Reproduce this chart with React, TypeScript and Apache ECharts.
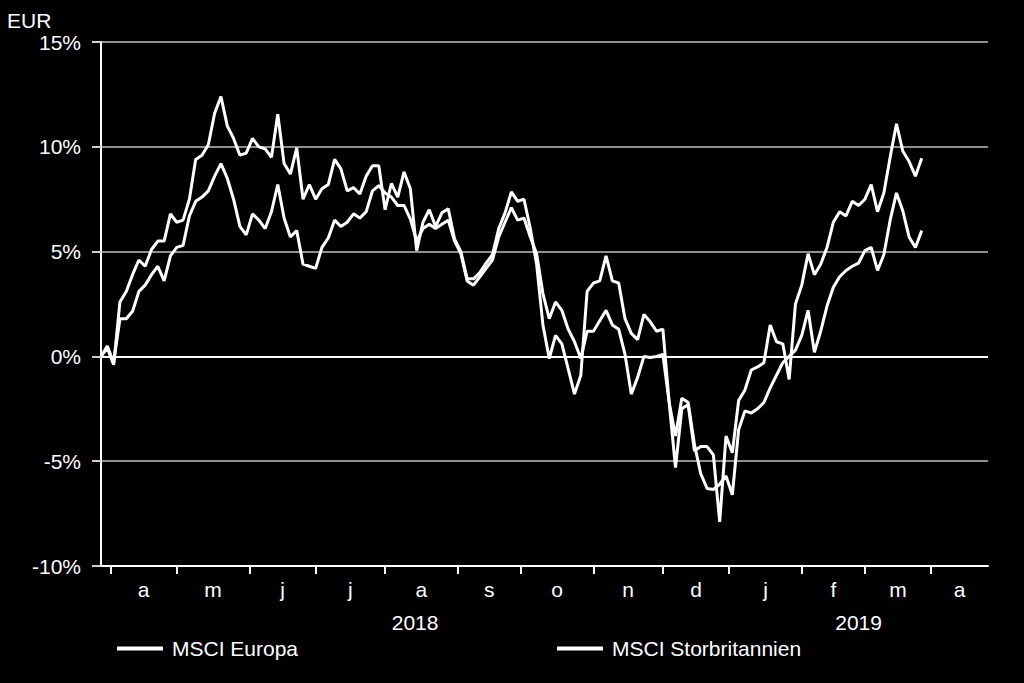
import { useEffect, useRef } from "react";
import * as echarts from "echarts";

// Trading-day index (weekdays counted from 28 Mar 2018), one sample every second day
const msciStorbritannien = [
  0.0, 0.4, -0.4, 2.6, 3.1, 3.9, 4.6, 4.3, 5.1, 5.5,
  5.5, 6.8, 6.4, 6.5, 7.5, 9.4, 9.6, 10.1, 11.6, 12.4,
  11.0, 10.4, 9.6, 9.7, 10.4, 10.0, 9.9, 9.5, 11.55, 9.2,
  8.7, 9.95, 7.5, 8.2, 7.5, 8.0, 8.2, 9.4, 8.95, 7.9,
  8.05, 7.75, 8.6, 9.1, 9.1, 7.0, 8.25, 7.6, 8.8, 8.0,
  5.05, 6.4, 7.0, 6.2, 6.85, 7.05, 5.6, 5.0, 3.7, 3.7,
  4.0, 4.45, 4.85, 6.1, 6.85, 7.85, 7.4, 7.5, 6.1, 4.4,
  1.5, -0.1, 1.0, 0.6, -0.6, -1.8, -0.9, 3.1, 3.5, 3.6,
  4.8, 3.6, 3.5, 1.8, 1.1, 0.8, 2.0, 1.65, 1.2, 1.3,
  -2.2, -5.3, -2.5, -2.3, -4.5, -4.3, -4.3, -4.7, -7.9, -3.8,
  -4.6, -2.1, -1.6, -0.65, -0.5, -0.3, 1.5, 0.7, 0.6, -1.1,
  2.5, 3.4, 4.9, 3.9, 4.4, 5.2, 6.4, 6.9, 6.7, 7.4,
  7.2, 7.5, 8.2, 6.9, 7.8, 9.5, 11.1, 9.8, 9.3, 8.6,
  9.45,
];

const msciEuropa = [
  0.0, 0.5, -0.3, 1.8, 1.8, 2.15, 3.1, 3.4, 3.9, 4.3,
  3.6, 4.8, 5.2, 5.3, 6.7, 7.4, 7.6, 7.9, 8.6, 9.2,
  8.5, 7.5, 6.2, 5.8, 6.8, 6.5, 6.1, 6.9, 8.2, 6.6,
  5.7, 6.0, 4.4, 4.3, 4.2, 5.2, 5.65, 6.5, 6.2, 6.4,
  6.8, 6.6, 6.9, 7.9, 8.15, 7.8, 7.6, 7.2, 7.2, 6.55,
  5.5, 6.1, 6.3, 6.1, 6.3, 6.5, 5.5, 4.9, 3.6, 3.4,
  3.8, 4.2, 4.6, 5.7, 6.4, 7.1, 6.5, 6.6, 5.7, 4.9,
  3.0, 1.8, 2.6, 2.2, 1.3, 0.7, -0.1, 1.2, 1.2, 1.7,
  2.2, 1.5, 1.3, 0.1, -1.8, -1.0, 0.0, -0.05, 0.0, 0.1,
  -2.2, -3.8, -2.0, -2.2, -4.2, -5.6, -6.3, -6.35, -6.1, -5.7,
  -6.6, -3.5, -2.6, -2.7, -2.5, -2.2, -1.5, -0.9, -0.3, 0.0,
  0.3, 1.0, 2.2, 0.2, 1.2, 2.4, 3.3, 3.8, 4.1, 4.3,
  4.45, 5.05, 5.2, 4.1, 4.85, 6.5, 7.8, 6.95, 5.7, 5.2,
  6.0,
];

const sampleStep = 2;
const dayIndex = msciEuropa.map((_, k) => k * sampleStep);

// Month boundaries in trading-day index and month letters
const monthStarts = [3, 24, 47, 68, 90, 113, 133, 156, 178, 199, 222, 242, 263];
const axisEnd = 281;
const monthLetters = ["a", "m", "j", "j", "a", "s", "o", "n", "d", "j", "f", "m", "a"];
const yearLabels = ["2018", "2019"];
const yearPositions = [99.5, 240];

const yTicks = { min: -10, max: 15, step: 5 };

const FONT = "'Liberation Sans', Arial, Helvetica, sans-serif";
const FS = 21;

export default function App() {
  const ref = useRef<HTMLDivElement>(null);

  useEffect(() => {
    if (!ref.current) return;
    const chart = echarts.init(ref.current, null, { renderer: "svg" });

    const bounds = [...monthStarts, axisEnd];
    const labelPositions = monthLetters.map((_, i) => (bounds[i] + bounds[i + 1]) / 2);

    const lineSeries = (name: string, values: number[], extra: any = {}) => ({
      name,
      type: "line",
      data: dayIndex.map((d, i) => [d, values[i]]),
      showSymbol: false,
      symbol: "none",
      lineStyle: { color: "#ffffff", width: 3 },
      itemStyle: { color: "#ffffff" },
      z: 3,
      ...extra,
    });

    const legendBase = {
      icon: "rect",
      itemWidth: 46,
      itemHeight: 4,
      padding: 0,
      top: 638,
      textStyle: { color: "#ffffff", fontSize: FS, fontFamily: FONT, padding: [0, 0, 0, 4] },
    };

    chart.setOption({
      animation: false,
      backgroundColor: "#000000",
      textStyle: { fontFamily: FONT },
      title: {
        text: "EUR",
        left: 2,
        top: 5,
        textStyle: { color: "#ffffff", fontSize: FS, fontWeight: "normal", fontFamily: FONT },
      },
      legend: [
        { ...legendBase, data: ["MSCI Europa"], left: 117 },
        { ...legendBase, data: ["MSCI Storbritannien"], left: 557 },
      ],
      grid: { left: 101, right: 36, top: 42, bottom: 117, containLabel: false },
      xAxis: [
        {
          type: "value",
          min: 0,
          max: axisEnd,
          position: "bottom",
          axisLine: { show: true, onZero: false, lineStyle: { color: "#ffffff", width: 2 } },
          axisTick: {
            show: true,
            length: 8,
            customValues: monthStarts,
            lineStyle: { color: "#ffffff", width: 2 },
          },
          axisLabel: {
            customValues: labelPositions,
            formatter: (v: number) => {
              const i = labelPositions.indexOf(v);
              return i >= 0 ? monthLetters[i] : "";
            },
            color: "#ffffff",
            fontSize: FS,
            fontFamily: FONT,
            margin: 13,
          },
          splitLine: { show: false },
        },
        {
          type: "value",
          min: 0,
          max: axisEnd,
          position: "bottom",
          offset: 33,
          axisLine: { show: false },
          axisTick: { show: false },
          axisLabel: {
            customValues: yearPositions,
            formatter: (v: number) => {
              const i = yearPositions.indexOf(v);
              return i >= 0 ? yearLabels[i] : "";
            },
            color: "#ffffff",
            fontSize: FS,
            fontFamily: FONT,
            margin: 13,
          },
          splitLine: { show: false },
        },
      ],
      yAxis: {
        type: "value",
        min: yTicks.min,
        max: yTicks.max,
        interval: yTicks.step,
        axisLine: { show: true, lineStyle: { color: "#ffffff", width: 2 } },
        axisTick: { show: true, length: 9, lineStyle: { color: "#d0d0d0", width: 2 } },
        axisLabel: {
          formatter: "{value}%",
          color: "#ffffff",
          fontSize: FS,
          fontFamily: FONT,
          margin: 20,
        },
        splitLine: { show: true, lineStyle: { color: "#8f8f8f", width: 2 } },
      },
      series: [
        lineSeries("MSCI Europa", msciEuropa, {
          markLine: {
            silent: true,
            symbol: ["none", "none"],
            label: { show: false },
            lineStyle: { color: "#ffffff", width: 2, type: "solid" },
            data: [{ yAxis: 0 }],
            z: 2,
          },
        }),
        lineSeries("MSCI Storbritannien", msciStorbritannien),
      ],
    });

    return () => chart.dispose();
  }, []);

  return (
    <div
      ref={ref}
      style={{ position: "fixed", left: 0, top: 0, width: "1024px", height: "683px", background: "#000" }}
    />
  );
}
